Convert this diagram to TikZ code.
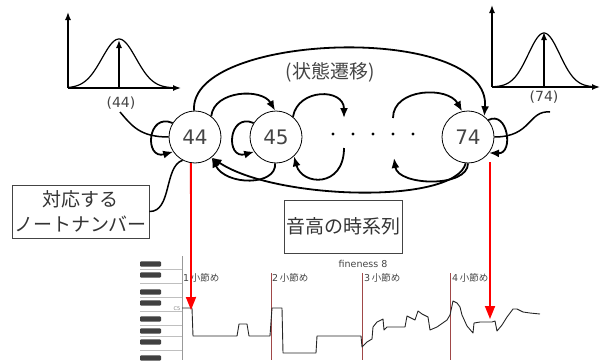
\documentclass[tikz,border=0pt]{standalone}
\usepackage{fontspec}
\setmainfont{DejaVu Sans}
\newfontfamily\jp{Noto Sans CJK JP}
\usetikzlibrary{arrows.meta,calc}
\definecolor{txt}{HTML}{444444}
\definecolor{bar}{HTML}{A04848}
\tikzset{
  st/.style={circle,draw,line width=0.8pt,minimum size=52pt,inner sep=0pt,text=txt,font=\fontsize{20}{24}\selectfont},
  arr/.style={line width=1.8pt,-{Latex[length=10pt,width=8pt]}},
  plain/.style={line width=1.8pt},
  axis/.style={line width=1.4pt,-{Latex[length=8pt,width=6pt]}},
  lbl/.style={text=txt,font=\fontsize{14}{16}\selectfont,inner sep=1pt},
  jtext/.style={text=txt,font=\jp\fontsize{19}{22}\selectfont,inner sep=1pt},
  boxed/.style={draw=txt,line width=0.8pt,text=black!80,font=\jp\fontsize{19}{25}\selectfont,align=center,inner sep=0pt},
  redarr/.style={red,line width=1.8pt,-{Triangle[length=13pt,width=10pt]}},
  small/.style={text=txt,font=\fontsize{9.5}{11}\selectfont,inner sep=0pt,anchor=west},
  barl/.style={bar,line width=0.8pt},
}
\begin{document}
\begin{tikzpicture}[x=1pt,y=-1pt]
\useasboundingbox (0,0) rectangle (608,364);
% ---------- Gaussian graphs ----------
\draw[axis] (68,88) -- (68,12);
\draw[axis] (68,88) -- (181,88);
\draw[line width=1.2pt] plot[domain=68:176,samples=80] (\x,{88-49*exp(-((\x-119)^2)/578)});
\draw[axis] (119,88) -- (119,40);
\node[lbl] (l44) at (121,103) {(44)};
\draw[axis] (492,87) -- (492,5);
\draw[axis] (492,87) -- (600,87);
\draw[line width=1.2pt] plot[domain=492:597,samples=80] (\x,{87-54*exp(-((\x-544)^2)/493)});
\draw[axis] (544,87) -- (544,32);
\node[lbl] (l74) at (544,97) {(74)};
% ---------- states ----------
\node[st] (n44) at (195,137) {44};
\node[st] (n45) at (276,137) {45};
\node[st] (n74) at (468,137) {74};
\foreach \i/\xx in {1/333,2/353,3/373,4/393,5/413}
  \fill (\xx,134) circle (1.6pt) coordinate (d\i);
\coordinate (cA) at (344,118);
\coordinate (cB) at (344,148);
\coordinate (cC) at (393,118);
\coordinate (cD) at (394,158);
\node[jtext] (trans) at (330,72) {(状態遷移)};
% big top arc
\draw[arr] (n44.92) .. controls (188,32) and (492,22) .. (n74.52);
% forward arcs
\draw[arr] (n44.52) .. controls (214,90) and (262,88) .. (n45.92);
\draw[arr] (n45.50) .. controls (298,88) and (344,88) .. (cA);
\draw[arr] (cC) .. controls (393,88) and (448,86) .. (n74.103);
% backward arcs
\draw[arr] (n74.270) .. controls (468,188) and (398,186) .. (cD);
\draw[arr] (cB) .. controls (344,188) and (302,186) .. (n45.313);
\draw[arr] (n45.268) .. controls (277,186) and (226,186) .. (n44.309);
\draw[arr] (n74.265) .. controls (455,205) and (275,200) .. (n44.309);
% self loops
\draw[arr] (n44.148) .. controls (147,112) and (144,160) .. (n44.214);
\draw[arr] (n45.148) .. controls (228,112) and (225,160) .. (n45.214);
\draw[arr] (n74.40) .. controls (508,110) and (514,154) .. (n74.-37);
% input lines
\coordinate (s44) at (120,112);
\coordinate (s74) at (550,112);
\draw[line width=1.5pt] (s44) .. controls (132,126) and (140,137) .. (n44.180);
\draw[line width=1.5pt] (s74) .. controls (528,110) and (532,137) .. (n74.0);
% boxes
\node[boxed,minimum width=137pt,minimum height=53pt] (b1) at (80.5,211.5) {対応する\\ノートナンバー};
\node[boxed,minimum width=118pt,minimum height=53pt] (b2) at (343,226.5) {音高の時系列};
\draw[line width=1.5pt] (b1.east) .. controls (172,212) and (164,166) .. (n44.242);
% ---------- piano roll ----------
\fill[white] (140,256) rectangle (182,360);
\foreach \yy in {269,283,297,311,325,336,350}
  \draw[black!25,line width=0.6pt] (140,\yy) -- (182,\yy);
\draw[black!40,line width=0.8pt] (182,256) -- (182,360);
\foreach \yy in {264,275,292,303,319,331,342,358}
  \fill[black!75,rounded corners=1pt] (140,\yy-2.6) rectangle (161,\yy+2.6);
\node[text=black!50,font=\fontsize{5}{6}\selectfont,inner sep=0pt] (c5) at (177,309) {C5};
% bar lines
\foreach \xx in {271,362,450}
  \draw[barl] (\xx,273) -- (\xx,360);
\node[small] (m1) at (183,278) {1\,{\jp 小節め}};
\node[small] (m2) at (272,278) {2\,{\jp 小節め}};
\node[small] (m3) at (364,278) {3\,{\jp 小節め}};
\node[small] (m4) at (452,278) {4\,{\jp 小節め}};
\node[small,anchor=center] (fin) at (363,264) {fineness 8};
% pitch line
\draw[black!85,line width=0.9pt,line join=round] (182,308) -- (192,308) -- (193,336) -- (237,336) -- (239,324) -- (247,324) -- (249,336) -- (270,336) -- (272,308) -- (282,308) -- (283,353) -- (316,353) -- (317,336) -- (361,336) -- (362,347) -- (367,342) -- (372,339) -- (373,327) -- (377,322) -- (383,319) -- (384,330) -- (387,327) -- (393,327) -- (405,327) -- (407,316) -- (415,320) -- (418,311) -- (422,314) -- (428,317) -- (430,330) -- (437,327) -- (447,320) -- (450,315) -- (453,301) -- (457,303) -- (460,307) -- (462,315) -- (467,326) -- (473,333) -- (474,323) -- (480,322) -- (492,322) -- (495,321) -- (497,331) -- (502,325) -- (507,317) -- (513,309) -- (517,309) -- (523,312) -- (530,313) -- (540,314);
% red arrows
\coordinate (r1) at (191,310);
\coordinate (r2s) at (490,162);
\coordinate (r2) at (490,319);
\draw[redarr] (n44.-99) -- (r1);
\draw[redarr] (r2s) -- (r2);
\end{tikzpicture}
\end{document}
